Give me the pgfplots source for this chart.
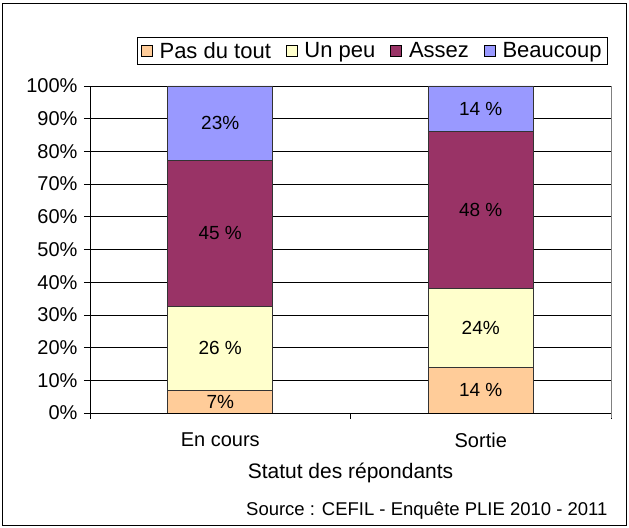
\documentclass[border=0pt]{standalone}
\usepackage{fontspec}
\setmainfont{Liberation Sans}
\usepackage{pgfplots}
\pgfplotsset{compat=1.18}
\definecolor{cPas}{HTML}{FFCC99}
\definecolor{cPeu}{HTML}{FFFFCC}
\definecolor{cAssez}{HTML}{993366}
\definecolor{cBeau}{HTML}{9999FF}
\begin{document}
\begin{tikzpicture}[x=1bp,y=1bp]
\useasboundingbox (-90,-115) rectangle (539,413);
\draw[black, line width=0.8bp] (-88,-112) rectangle (536,410);
\begin{axis}[
  at={(0,0)}, anchor=south west,
  scale only axis, width=521bp, height=327bp,
  xmin=0, xmax=2, ymin=0, ymax=100,
  ybar stacked, bar width=105bp,
  xtick={0,1,2}, xticklabels={},
  extra x ticks={0.5,1.5}, extra x tick labels={En cours,Sortie},
  extra x tick style={major tick length=0pt, xticklabel style={yshift=-16bp}},
  ytick={0,10,...,100},
  yticklabel={\pgfmathprintnumber{\tick}\%},
  /pgf/number format/assume math mode=true,
  tick align=outside, tick pos=left, major tick length=6bp,
  ymajorgrids, grid style={black, line width=0.6bp},
  axis line style={line width=0.8bp},
  axis x line*=bottom, axis y line*=left,
  every tick/.style={black, line width=0.6bp},
  ticklabel style={font=\fontsize{20bp}{24bp}\selectfont},
  yticklabel style={xshift=-3bp},
  xlabel={Statut des répondants},
  xlabel style={at={(axis description cs:0.5,-0.183)}, anchor=center, font=\fontsize{21bp}{25bp}\selectfont},
  legend columns=-1,
  legend style={at={(axis description cs:0.994,1.150)}, anchor=north east, draw=black, line width=0.6bp,
    font=\fontsize{22bp}{26bp}\selectfont, inner xsep=4bp, inner ysep=3bp,
    /tikz/every odd column/.append style={column sep=5bp},
    /tikz/every even column/.append style={column sep=13bp}},
  legend image code/.code={\draw[#1, draw=black, line width=0.6bp] (0bp,-5bp) rectangle (11bp,6bp);},
]
\addplot[fill=cPas, draw=black!80, line width=0.6bp] coordinates {(0.5,6.93) (1.5,14)};
\addplot[fill=cPeu, draw=black!80, line width=0.6bp] coordinates {(0.5,25.74) (1.5,24)};
\addplot[fill=cAssez, draw=black!80, line width=0.6bp] coordinates {(0.5,44.55) (1.5,48)};
\addplot[fill=cBeau, draw=black!80, line width=0.6bp] coordinates {(0.5,22.78) (1.5,14)};
\legend{Pas du tout,Un peu,Assez,Beaucoup}
\end{axis}
\draw[gray, line width=0.8bp] (521,-5) -- (521,327);
\begin{axis}[
  at={(0,0)}, anchor=south west,
  scale only axis, width=521bp, height=327bp,
  xmin=0, xmax=2, ymin=0, ymax=100,
  hide axis,
]
\addplot[draw=none, mark=none, nodes near coords, point meta=explicit symbolic,
  every node near coord/.style={anchor=center, black, font=\fontsize{19bp}{23bp}\selectfont}]
  table[meta=lab, header=true] {
x y lab
0.5 3.47 7\%
0.5 19.8 {26 \%}
0.5 54.95 {45 \%}
0.5 88.61 23\%
1.5 7 {14 \%}
1.5 26 24\%
1.5 62 {48 \%}
1.5 93 {14 \%}
};
\end{axis}
\node[anchor=east, font=\fontsize{18.5bp}{22bp}\selectfont] at (521,-98) {Source : CEFIL - Enquête PLIE 2010 - 2011};
\end{tikzpicture}
\end{document}
